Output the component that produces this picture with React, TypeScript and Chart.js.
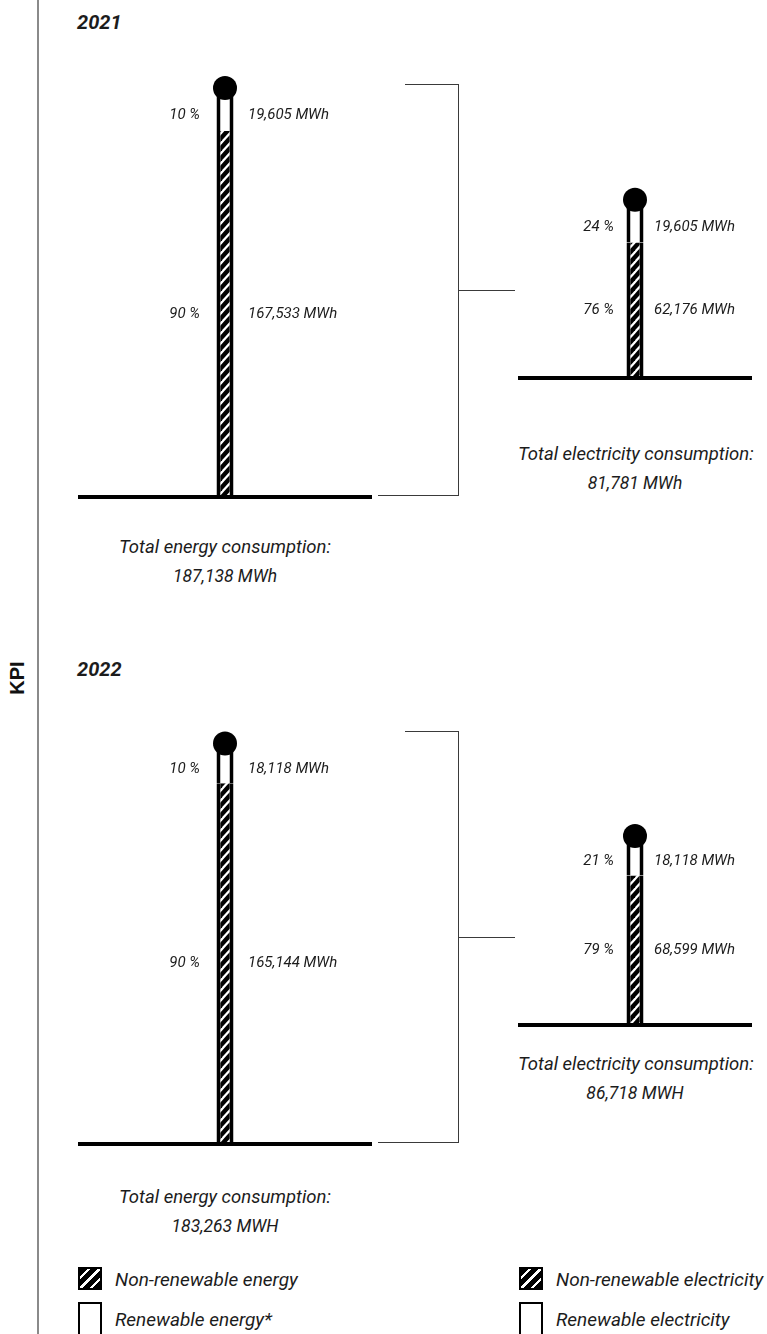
import { useEffect, useRef } from "react";
import { Chart, registerables } from "chart.js";

Chart.register(...registerables);

// ---- data ----
const YEARS = ["2021", "2022"];
const ENERGY_RENEWABLE = [19605, 18118];
const ENERGY_NON_RENEWABLE = [167533, 165144];
const ENERGY_TOTAL = [187138, 183263];
const ELECTRICITY_RENEWABLE = [19605, 18118];
const ELECTRICITY_NON_RENEWABLE = [62176, 68599];
const ELECTRICITY_TOTAL = [81781, 86718];
const TOTAL_UNITS = ["MWh", "MWH"];
const SEGMENT_UNIT = "MWh";
const ENERGY_TITLE = "Total energy consumption:";
const ELECTRICITY_TITLE = "Total electricity consumption:";
const LEGEND_ENERGY = ["Non-renewable energy", "Renewable energy*"];
const LEGEND_ELECTRICITY = ["Non-renewable electricity", "Renewable electricity"];
const SIDE_LABEL = "KPI";

// ---- styling / layout ----
const FONT = "'Roboto', 'DejaVu Sans', sans-serif";
const INK = "#1c1c1c";
const MWH_PER_PX = 458;
const PAD_TOP = 18;
const PAD_BOTTOM = 4;
const BULB_R = 12;
const TUBE_W = 17;
const SECTION_SHIFT = 647;

const ENERGY_BOX = { left: 78, width: 294, yMax: 200000, gapL: 25, gapR: 23 };
const ELEC_BOX = { left: 518, width: 234, yMax: 100000, gapL: 21, gapR: 19 };

// per-year vertical anchors
const BASE_ENERGY = [497, 497 + SECTION_SHIFT];
const BASE_ELEC = [378, 378 + SECTION_SHIFT];
const ENERGY_TITLE_Y = [547, 1197];
const ELEC_TITLE_Y = [454, 1064];

function makeHatch(): CanvasPattern | string {
  const w = 9;
  const h = 10;
  const c = document.createElement("canvas");
  c.width = w;
  c.height = h;
  const g = c.getContext("2d");
  if (!g) return "#000";
  g.fillStyle = "#000";
  g.fillRect(0, 0, w, h);
  g.strokeStyle = "#fff";
  g.lineWidth = 2.2;
  for (const n of [0, 1, 2]) {
    g.beginPath();
    g.moveTo(n * w + w, -h);
    g.lineTo(-w, (n + 1) * h);
    g.stroke();
  }
  return g.createPattern(c, "repeat") || "#000";
}

const thermoPlugin = {
  id: "thermo",
  afterDatasetsDraw(chart: any, _args: any, opts: any) {
    const ctx = chart.ctx as CanvasRenderingContext2D;
    const low = chart.getDatasetMeta(0).data[0];
    const high = chart.getDatasetMeta(1).data[0];
    if (!low || !high) return;
    const x = low.x;
    const yBase = low.base;
    const yMid = low.y;
    const yTop = high.y;
    const vals = chart.data.datasets.map((d: any) => d.data[0] as number);
    const total = vals[0] + vals[1];

    // bulb on top of the tube
    ctx.save();
    ctx.fillStyle = "#000";
    ctx.beginPath();
    ctx.arc(x, yTop, BULB_R, 0, Math.PI * 2);
    ctx.fill();

    // share and amount beside each segment
    ctx.fillStyle = INK;
    ctx.font = `italic 15px ${FONT}`;
    ctx.textBaseline = "middle";
    const rows = [
      { v: vals[1], y: (yTop + BULB_R + yMid) / 2 },
      { v: vals[0], y: (yMid + yBase) / 2 },
    ];
    for (const r of rows) {
      ctx.textAlign = "right";
      ctx.fillText(`${Math.round((r.v / total) * 100)} %`, x - opts.gapL, r.y);
      ctx.textAlign = "left";
      ctx.fillText(`${r.v.toLocaleString("en-US")} ${SEGMENT_UNIT}`, x + opts.gapR, r.y);
    }
    ctx.restore();
  },
};

type ThermoProps = {
  year: string;
  renewable: number;
  nonRenewable: number;
  labels: string[];
  box: { left: number; width: number; yMax: number; gapL: number; gapR: number };
  baseline: number;
};

function Thermometer({ year, renewable, nonRenewable, labels, box, baseline }: ThermoProps) {
  const ref = useRef<HTMLCanvasElement>(null);
  const plotH = Math.round(box.yMax / MWH_PER_PX);
  const height = PAD_TOP + plotH + PAD_BOTTOM;
  const top = baseline - PAD_TOP - plotH;

  useEffect(() => {
    if (!ref.current) return;
    const hatch = makeHatch();
    const side = { left: 4, right: 4, top: 0, bottom: 0 };
    const chart = new Chart(ref.current, {
      type: "bar",
      data: {
        labels: [year],
        datasets: [
          {
            label: labels[0],
            data: [nonRenewable],
            backgroundColor: hatch as any,
            borderColor: "#000",
            borderWidth: side,
            borderSkipped: false,
            barThickness: TUBE_W,
            inflateAmount: 0,
          },
          {
            label: labels[1],
            data: [renewable],
            backgroundColor: "#fff",
            borderColor: "#000",
            borderWidth: side,
            borderSkipped: false,
            barThickness: TUBE_W,
            inflateAmount: 0,
          },
        ],
      },
      options: {
        animation: false,
        responsive: false,
        maintainAspectRatio: false,
        events: [],
        layout: { padding: { top: PAD_TOP, bottom: PAD_BOTTOM, left: 0, right: 0 } },
        plugins: {
          legend: { display: false },
          tooltip: { enabled: false },
          thermo: { gapL: box.gapL, gapR: box.gapR },
        } as any,
        scales: {
          x: {
            stacked: true,
            z: 1,
            grid: { display: false, drawTicks: false },
            ticks: { display: false },
            border: { display: true, color: "#000", width: 4, z: 1 } as any,
          },
          y: { stacked: true, display: false, min: 0, max: box.yMax },
        },
      },
      plugins: [thermoPlugin],
    });
    return () => chart.destroy();
  }, [year, renewable, nonRenewable, labels, box, baseline]);

  return (
    <canvas
      ref={ref}
      width={box.width}
      height={height}
      style={{ position: "absolute", left: box.left, top, width: box.width, height }}
    />
  );
}

function Text({
  x,
  y,
  children,
  size = 16,
  weight = 400,
  align = "left",
  width = 0,
}: {
  x: number;
  y: number;
  children: any;
  size?: number;
  weight?: number;
  align?: "left" | "center";
  width?: number;
}) {
  const lh = Math.round(size + 8);
  return (
    <div
      style={{
        position: "absolute",
        left: x,
        top: y - lh / 2,
        width: align === "center" ? width : undefined,
        textAlign: align,
        font: `italic ${weight} ${size}px ${FONT}`,
        lineHeight: `${lh}px`,
        color: INK,
        whiteSpace: "nowrap",
      }}
    >
      {children}
    </div>
  );
}

const line = (left: number, top: number, width: number, height: number, color = "#3a3a3a") => (
  <div style={{ position: "absolute", left, top, width, height, background: color }} />
);

function Bracket({ top, bottom }: { top: number; bottom: number }) {
  const mid = Math.round((top + bottom) / 2);
  return (
    <>
      {line(405, top, 54, 1)}
      {line(458, top, 1, bottom - top + 1)}
      {line(378, bottom, 81, 1)}
      {line(458, mid, 57, 1)}
    </>
  );
}

function LegendItem({ x, y, hatched, label }: { x: number; y: number; hatched: boolean; label: string }) {
  return (
    <>
      <div
        style={{
          position: "absolute",
          left: x,
          top: hatched ? y - 12 : y - 17,
          width: 24,
          height: hatched ? 23 : 40,
          boxSizing: "border-box",
          border: "2px solid #000",
          background: hatched
            ? "repeating-linear-gradient(135deg, #000 0px, #000 5px, #fff 5px, #fff 7.5px)"
            : "#fff",
        }}
      />
      <Text x={x + 37} y={y} size={19}>
        {label}
      </Text>
    </>
  );
}

export default function App() {
  return (
    <div
      style={{
        position: "absolute",
        left: 0,
        top: 0,
        width: 767,
        height: 1334,
        overflow: "hidden",
        background: "#fff",
      }}
    >
      {line(37, 0, 2, 1334, "#8a8a8a")}
      <div
        style={{
          position: "absolute",
          left: 17,
          top: 678,
          transform: "translate(-50%, -50%) rotate(-90deg)",
          font: `700 20px 'Liberation Sans', Arial, sans-serif`,
          color: "#111",
          whiteSpace: "nowrap",
        }}
      >
        {SIDE_LABEL}
      </div>

      {YEARS.map((year, i) => {
        const shift = i * SECTION_SHIFT;
        return (
          <div key={year}>
            <Text x={77} y={22 + shift} size={20} weight={700}>
              {year}
            </Text>
            <Thermometer
              year={year}
              renewable={ENERGY_RENEWABLE[i]}
              nonRenewable={ENERGY_NON_RENEWABLE[i]}
              labels={LEGEND_ENERGY}
              box={ENERGY_BOX}
              baseline={BASE_ENERGY[i]}
            />
            <Thermometer
              year={year}
              renewable={ELECTRICITY_RENEWABLE[i]}
              nonRenewable={ELECTRICITY_NON_RENEWABLE[i]}
              labels={LEGEND_ELECTRICITY}
              box={ELEC_BOX}
              baseline={BASE_ELEC[i]}
            />
            <Bracket top={84 + shift} bottom={495 + shift} />
            <Text x={ENERGY_BOX.left} y={ENERGY_TITLE_Y[i]} size={18.5} align="center" width={ENERGY_BOX.width}>
              {ENERGY_TITLE}
            </Text>
            <Text x={ENERGY_BOX.left} y={ENERGY_TITLE_Y[i] + 29} size={17.5} align="center" width={ENERGY_BOX.width}>
              {`${ENERGY_TOTAL[i].toLocaleString("en-US")} ${TOTAL_UNITS[i]}`}
            </Text>
            <Text x={ELEC_BOX.left} y={ELEC_TITLE_Y[i]} size={18.5} align="center" width={ELEC_BOX.width}>
              {ELECTRICITY_TITLE}
            </Text>
            <Text x={ELEC_BOX.left} y={ELEC_TITLE_Y[i] + 29} size={17.5} align="center" width={ELEC_BOX.width}>
              {`${ELECTRICITY_TOTAL[i].toLocaleString("en-US")} ${TOTAL_UNITS[i]}`}
            </Text>
          </div>
        );
      })}

      <LegendItem x={78} y={1279} hatched label={LEGEND_ENERGY[0]} />
      <LegendItem x={78} y={1319} hatched={false} label={LEGEND_ENERGY[1]} />
      <LegendItem x={519} y={1279} hatched label={LEGEND_ELECTRICITY[0]} />
      <LegendItem x={519} y={1319} hatched={false} label={LEGEND_ELECTRICITY[1]} />
    </div>
  );
}
